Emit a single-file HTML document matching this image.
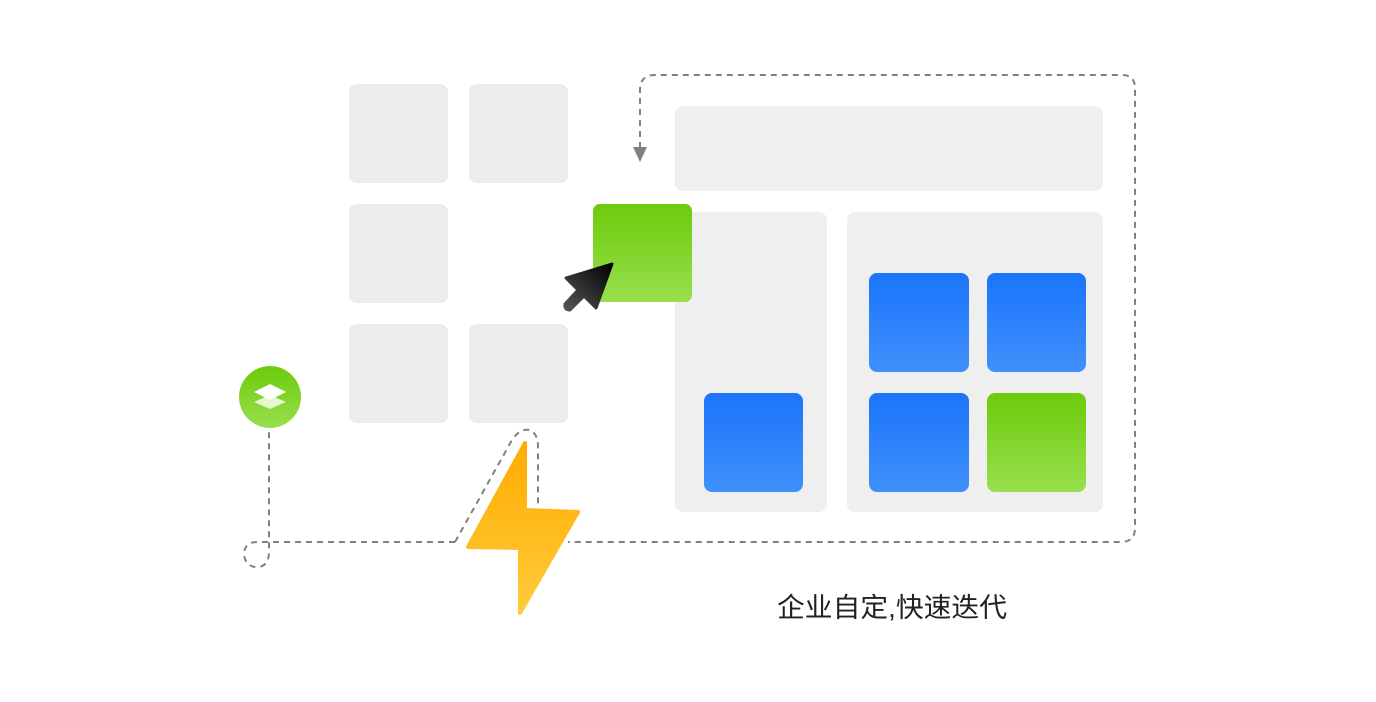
<!DOCTYPE html>
<html><head><meta charset="utf-8"><style>
html,body{margin:0;padding:0;background:#fff;width:1376px;height:702px;overflow:hidden}
</style></head><body>
<svg width="1376" height="702" viewBox="0 0 1376 702" xmlns="http://www.w3.org/2000/svg">
<defs>
<linearGradient id="g" x1="0" y1="0" x2="0" y2="1"><stop offset="0" stop-color="#6ccb0a"/><stop offset="1" stop-color="#98df4e"/></linearGradient>
<linearGradient id="b" x1="0" y1="0" x2="0" y2="1"><stop offset="0" stop-color="#1b74fb"/><stop offset="1" stop-color="#4091fb"/></linearGradient>
<linearGradient id="y" x1="0" y1="0" x2="0" y2="1"><stop offset="0" stop-color="#ffab00"/><stop offset="1" stop-color="#ffcb3a"/></linearGradient>
<linearGradient id="k" x1="1" y1="0" x2="0" y2="1"><stop offset="0" stop-color="#000"/><stop offset="1" stop-color="#555"/></linearGradient>
</defs>
<g fill="#ececec">
<rect x="349" y="84" width="99" height="99" rx="8"/><rect x="469" y="84" width="99" height="99" rx="8"/>
<rect x="349" y="204" width="99" height="99" rx="8"/>
<rect x="349" y="324" width="99" height="99" rx="8"/><rect x="469" y="324" width="99" height="99" rx="8"/>
</g>
<g fill="#efefef">
<rect x="675" y="106" width="428" height="85" rx="8"/>
<rect x="675" y="212" width="152" height="300" rx="8"/>
<rect x="847" y="212" width="256" height="300" rx="8"/>
</g>
<rect x="704" y="393" width="99" height="99" rx="8" fill="url(#b)"/>
<rect x="869" y="273" width="100" height="99" rx="8" fill="url(#b)"/>
<rect x="987" y="273" width="99" height="99" rx="8" fill="url(#b)"/>
<rect x="869" y="393" width="100" height="99" rx="8" fill="url(#b)"/>
<rect x="987" y="393" width="99" height="99" rx="8" fill="url(#g)"/>
<rect x="593" y="204" width="99" height="98" rx="7" fill="url(#g)"/>
<g fill="none" stroke="#808080" stroke-width="2" stroke-dasharray="6,5">
<path d="M640 148 V90 Q640 75 655 75 H1122 Q1135 75 1135 88 V528 Q1135 542 1121 542 H568"/>
<path d="M455 542 H257 Q244 542 244 555 Q246 568 259 567 Q269 565 269 552 V428"/>
<path d="M455 542 L512 440 Q520 428 530 430 Q538 434 538 446 V505"/>
</g>
<path d="M633 147 L647 147 L640 162 Z" fill="#808080"/>
<polygon points="525,443 468,547 520,548 520,613 578,512 525,510" fill="url(#y)" stroke="url(#y)" stroke-width="4" stroke-linejoin="round"/>
<path d="M612 264 L566 278 L578 290 L565 304 Q564 310 570 310 L584 296 L596 308 Z" fill="url(#k)" stroke="url(#k)" stroke-width="3" stroke-linejoin="round"/>
<circle cx="270" cy="397" r="31" fill="url(#g)"/>
<path d="M254 402 L270 395 L286 402 L270 409 Z" fill="#e3f7d3"/>
<path d="M254 392 L270 384 L286 392 L270 400 Z" fill="#fff"/>
<text x="892" y="617" font-family="Liberation Sans, Noto Sans CJK SC, sans-serif" font-size="27" fill="#222" text-anchor="middle" textLength="230" lengthAdjust="spacingAndGlyphs">企业自定,快速迭代</text>
</svg>
</body></html>
